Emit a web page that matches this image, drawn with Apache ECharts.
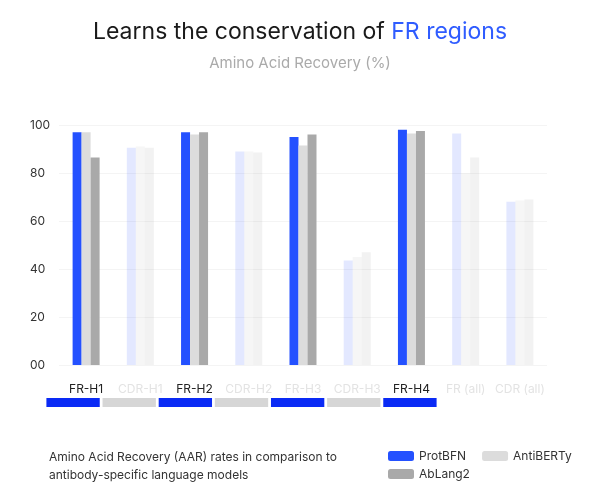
<!DOCTYPE html>
<html>
<head>
<meta charset="utf-8">
<script src="https://cdn.jsdelivr.net/npm/echarts@6/dist/echarts.min.js"></script>
<style>html,body{margin:0;background:#fff}#main{width:600px;height:500px}</style>
</head>
<body>
<div id="main"></div>
<script>
var categories = ['FR-H1', 'CDR-H1', 'FR-H2', 'CDR-H2', 'FR-H3', 'CDR-H3', 'FR-H4', 'FR (all)', 'CDR (all)'];
var protBFN   = [97, 90.5, 97, 89, 95, 43.5, 98, 96.5, 68];
var antiBERTy = [97, 91, 96, 89, 91.5, 45, 96.5, 80, 68.5];
var abLang2   = [86.5, 90.5, 97, 88.5, 96, 47, 97.5, 86.5, 69];
var yTicks = [0, 20, 40, 60, 80, 100];
// which categories are highlighted (others are faded)
var active = [1, 0, 1, 0, 1, 0, 1, 0, 0];
var labelActive = [1, 0, 1, 0, 0, 0, 1, 0, 0];
var stripColors = ['#0a2af5', '#d6d6d6', '#0a2af5', '#d6d6d6', '#0a2af5', '#d6d6d6', '#0a2af5'];

function mk(vals, fade) {
    return vals.map(function (v, i) {
        return { value: v, itemStyle: { opacity: active[i] ? 1 : fade } };
    });
}

var chart = echarts.init(document.getElementById('main'));
var font = 'Inter, "Noto Sans", sans-serif';

var option = {
    textStyle: { fontFamily: font },
    title: [{
        text: '{a|Learns the conservation of }{b|FR regions}',
        left: 'center', top: 16,
        textStyle: { fontWeight: 'normal', rich: {
            a: { fontSize: 23, color: '#1a1a1a', fontFamily: font, fontWeight: 'normal' },
            b: { fontSize: 23, color: '#2f5cff', fontFamily: font, fontWeight: 'normal' }
        } }
    }, {
        text: 'Amino Acid Recovery (%)',
        left: 'center', top: 51,
        textStyle: { fontSize: 15, color: '#aaaaaa', fontWeight: 'normal', fontFamily: font }
    }, {
        text: 'Amino Acid Recovery (AAR) rates in comparison to\nantibody-specific language models',
        left: 44, top: 443,
        textStyle: { fontSize: 12, color: '#333', fontWeight: 'normal', lineHeight: 18, fontFamily: font }
    }],
    legend: [{
        left: 383, top: 445, itemGap: 16,
        itemWidth: 26, itemHeight: 10,
        data: ['ProtBFN', 'AntiBERTy'],
        textStyle: { fontSize: 12, color: '#333' }
    }, {
        left: 383, top: 463,
        itemWidth: 26, itemHeight: 10,
        data: ['AbLang2'],
        textStyle: { fontSize: 12, color: '#333' }
    }],
    grid: [
        { left: 59, right: 53, top: 125, height: 240 },
        { left: 45, right: 162, top: 398, height: 9 }
    ],
    xAxis: [{
        type: 'category', data: categories, gridIndex: 0,
        axisLine: { show: false }, axisTick: { show: false },
        axisLabel: {
            margin: 18, fontSize: 12, interval: 0,
            formatter: function (v, i) { return labelActive[i] ? v : '{f|' + v + '}'; },
            color: '#222',
            rich: { f: { color: '#e3e3e3', fontSize: 12 } }
        }
    }, {
        type: 'category', data: stripColors.map(function (c, i) { return i; }), gridIndex: 1,
        show: false
    }],
    yAxis: [{
        type: 'value', min: 0, max: 100, interval: 20, gridIndex: 0,
        axisLabel: {
            margin: 29, align: 'left', fontSize: 12, color: '#333',
            formatter: function (v) { return v === 0 ? '00' : String(v); }
        },
        splitLine: { lineStyle: { color: '#f4f4f4' } }
    }, {
        type: 'value', min: 0, max: 1, gridIndex: 1, show: false
    }],
    series: [
        { name: 'ProtBFN', type: 'bar', data: mk(protBFN, 0.13), color: '#2451ff', barWidth: 9, barGap: '0%' },
        { name: 'AntiBERTy', type: 'bar', data: mk(antiBERTy, 0.25), color: '#dcdcdc', barWidth: 9, barGap: '0%' },
        { name: 'AbLang2', type: 'bar', data: mk(abLang2, 0.15), color: '#a9a9a9', barWidth: 9, barGap: '0%' },
        {
            type: 'bar', xAxisIndex: 1, yAxisIndex: 1, barWidth: '95%', silent: true,
            data: stripColors.map(function (c) { return { value: 1, itemStyle: { color: c } }; })
        }
    ]
};
chart.setOption(option);
</script>
</body>
</html>
